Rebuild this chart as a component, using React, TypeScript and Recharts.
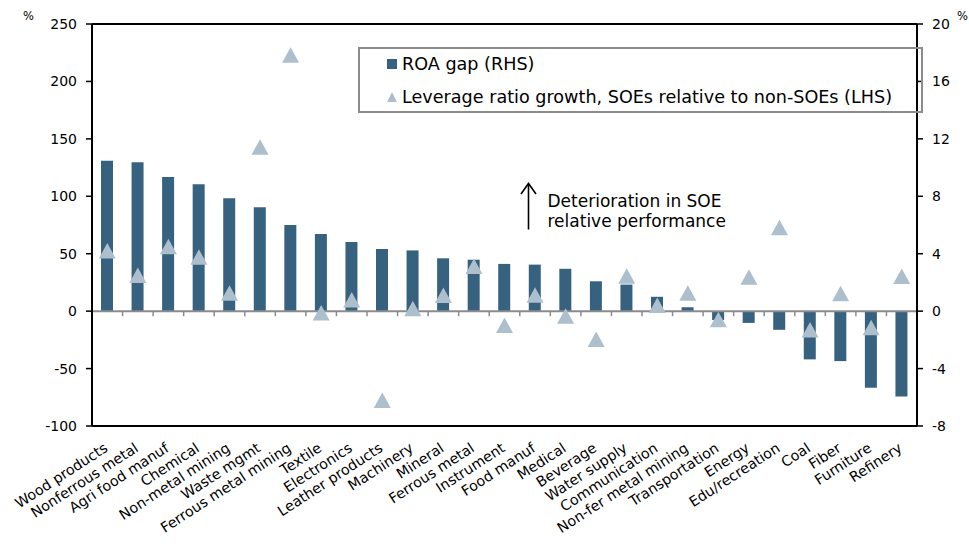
import React from 'react';
import { ComposedChart, Bar, Line, XAxis, YAxis, ReferenceLine } from 'recharts';

const categories = [
  'Wood products', 'Nonferrous metal', 'Agri food manuf', 'Chemical', 'Non-metal mining',
  'Waste mgmt', 'Ferrous metal mining', 'Textile', 'Electronics', 'Leather products',
  'Machinery', 'Mineral', 'Ferrous metal', 'Instrument', 'Food manuf', 'Medical',
  'Beverage', 'Water supply', 'Communication', 'Non-fer metal mining', 'Transportation',
  'Energy', 'Edu/recreation', 'Coal', 'Fiber', 'Furniture', 'Refinery',
];
const roaGap = [
  10.47, 10.37, 9.35, 8.83, 7.86, 7.23, 6.0, 5.37, 4.81, 4.33, 4.23, 3.68, 3.58, 3.29,
  3.24, 2.95, 2.08, 1.85, 1.0, 0.27, -0.62, -0.82, -1.3, -3.36, -3.48, -5.34, -5.95,
];
const leverageGrowth = [
  52.5, 31.3, 56.2, 47.1, 15.8, 143, 223, -1.3, 10, -77.6, 2.3, 13.8, 39, -12.3, 14.1,
  -4.2, -24.5, 30.5, 5.2, 15.8, -7.2, 29.8, 72.9, -16.3, 15.4, -14.2, 30.3,
];
const leftTicks = [-100, -50, 0, 50, 100, 150, 200, 250];
const rightTicks = [-8, -4, 0, 4, 8, 12, 16, 20];
const legendLabels = ['ROA gap (RHS)', 'Leverage ratio growth, SOEs relative to non-SOEs (LHS)'];
const annotationLines = ['Deterioration in SOE', 'relative performance'];
const unitLabel = '%';

const data = categories.map((name, i) => ({ name, roa: roaGap[i], lev: leverageGrowth[i] }));

const BAR = '#36627f';
const TRI = '#adbfcc';
const FONT = '"DejaVu Sans", sans-serif';

const TriangleDot = (props: any) => {
  const { cx, cy, index } = props;
  if (cx == null || cy == null) return <g key={index} />;
  const w = 17;
  const h = 15.5;
  return (
    <path
      key={index}
      d={`M${cx},${cy - h / 2} L${cx + w / 2},${cy + h / 2} L${cx - w / 2},${cy + h / 2} Z`}
      fill={TRI}
    />
  );
};

const ZeroLine = (props: any) => {
  const { x1, y1, x2 } = props;
  const n = categories.length;
  const step = (x2 - x1) / n;
  const ticks = [];
  for (let i = 1; i < n; i++) {
    const x = x1 + i * step;
    ticks.push(<line key={i} x1={x} x2={x} y1={y1} y2={y1 + 5} stroke="#8c8c8c" strokeWidth={1.5} />);
  }
  return (
    <g>
      <line x1={x1} x2={x2} y1={y1} y2={y1} stroke="#8c8c8c" strokeWidth={2} />
      {ticks}
    </g>
  );
};

const XTick = (props: any) => {
  const { x, y, payload } = props;
  const tx = x + 1.5;
  const ty = y + 24.5;
  return (
    <text
      x={tx}
      y={ty}
      transform={`rotate(-33 ${tx} ${ty})`}
      textAnchor="end"
      fontFamily={FONT}
      fontSize={14.3}
      fill="#000"
    >
      {payload.value}
    </text>
  );
};

export default function App() {
  return (
    <div style={{ position: 'absolute', left: 0, top: 0, width: 969, height: 546, background: '#fff' }}>
      <ComposedChart
        width={969}
        height={546}
        data={data}
        margin={{ top: 24, right: 12, bottom: 0, left: 32 }}
      >
        <XAxis
          dataKey="name"
          height={120}
          interval={0}
          tickLine={false}
          tickSize={0}
          tickMargin={0}
          axisLine={{ stroke: '#000', strokeWidth: 2 }}
          tick={<XTick />}
        />
        <YAxis
          yAxisId="left"
          domain={[-100, 250]}
          ticks={leftTicks}
          width={60}
          tickSize={6}
          tickMargin={9}
          axisLine={{ stroke: '#000', strokeWidth: 2 }}
          tickLine={{ stroke: '#000', strokeWidth: 1.5 }}
          tick={{ fontFamily: FONT, fontSize: 14, fill: '#000' }}
          allowDataOverflow
        />
        <YAxis
          yAxisId="right"
          orientation="right"
          domain={[-8, 20]}
          ticks={rightTicks}
          width={40}
          tickSize={6}
          tickMargin={9}
          axisLine={{ stroke: '#000', strokeWidth: 2 }}
          tickLine={{ stroke: '#000', strokeWidth: 1.5 }}
          tick={{ fontFamily: FONT, fontSize: 14, fill: '#000', textAnchor: 'start' }}
          allowDataOverflow
        />
        <ReferenceLine yAxisId="left" y={250} stroke="#000" strokeWidth={2} />
        <ReferenceLine yAxisId="left" y={0} shape={(p: any) => <ZeroLine {...p} />} />
        <Bar yAxisId="right" dataKey="roa" fill={BAR} barSize={12} isAnimationActive={false} />
        <Line
          yAxisId="left"
          dataKey="lev"
          stroke="none"
          dot={(p: any) => <TriangleDot {...p} key={p.index} />}
          activeDot={false}
          isAnimationActive={false}
        />
      </ComposedChart>
      <svg
        width={969}
        height={546}
        style={{ position: 'absolute', left: 0, top: 0, pointerEvents: 'none' }}
        fontFamily={FONT}
      >
        <text x={23} y={20} fontSize={11.5} fill="#000">{unitLabel}</text>
        <text x={957} y={20} fontSize={11.5} fill="#000">{unitLabel}</text>
        <rect x={359} y={48} width={563} height={64} fill="none" stroke="#8c8c8c" strokeWidth={2} />
        <rect x={387} y={59} width={10} height={10} fill={BAR} />
        <text x={402} y={70} fontSize={17.6} fill="#000">{legendLabels[0]}</text>
        <path d="M392,92 L397,102 L387,102 Z" fill={TRI} />
        <text x={402} y={103} fontSize={17.6} fill="#000">{legendLabels[1]}</text>
        <line x1={528.5} x2={528.5} y1={184} y2={229.5} stroke="#000" strokeWidth={1.6} />
        <path d="M521,194 L528.5,183.5 L536,194" fill="none" stroke="#000" strokeWidth={1.6} />
        <text x={547.5} y={206.5} fontSize={17} fill="#000">{annotationLines[0]}</text>
        <text x={547.5} y={227} fontSize={17} fill="#000">{annotationLines[1]}</text>
      </svg>
    </div>
  );
}
